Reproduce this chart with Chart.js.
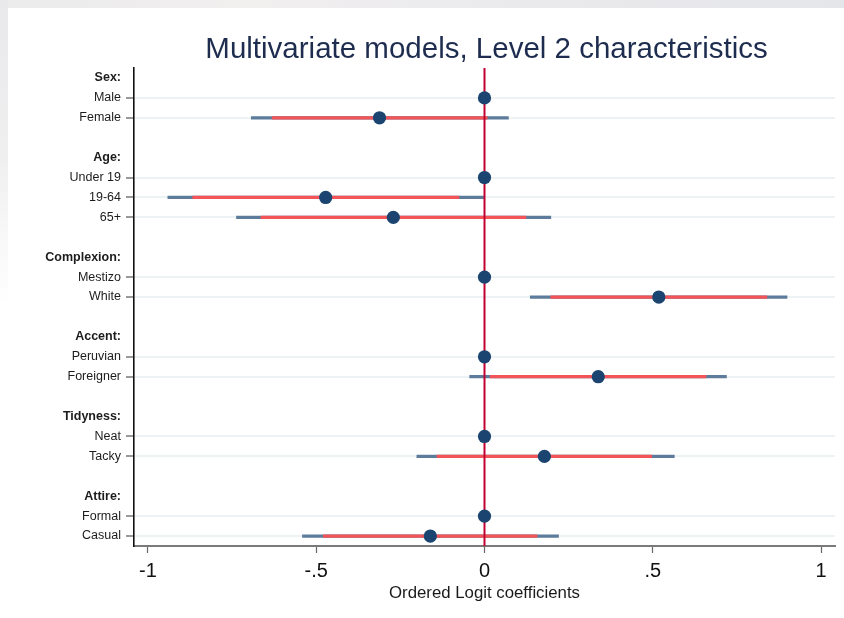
<!DOCTYPE html>
<html>
<head>
<meta charset="utf-8">
<title>Multivariate models, Level 2 characteristics</title>
<script src="https://cdn.jsdelivr.net/npm/chart.js@4/dist/chart.umd.min.js"></script>
<style>
  html, body { margin: 0; padding: 0; background: #ffffff; overflow: hidden; }
  #wrap { position: relative; width: 844px; height: 618px; overflow: hidden; }
  .strip-top { position: absolute; left: 0; top: 0; width: 844px; height: 8px;
    background: linear-gradient(90deg, #ebebec 0%, #f2efef 30%, #ecebee 50%, #e5e6e9 100%); }
  .strip-left { position: absolute; left: 0; top: 0; width: 8px; height: 618px;
    background: linear-gradient(180deg, #e9e9eb 0%, #efeff0 25%, #f9f9f9 40%, #ffffff 50%); }
  canvas { position: absolute; left: 0; top: 0; }
</style>
</head>
<body>
<div id="wrap">
  <div class="strip-top"></div>
  <div class="strip-left"></div>
  <canvas id="chart" width="844" height="618"></canvas>
</div>
<script>
// Row labels, top to bottom: group headers end with ':', '' marks a spacer row
const rowLabels = [
  'Sex:', 'Male', 'Female', '',
  'Age:', 'Under 19', '19-64', '65+', '',
  'Complexion:', 'Mestizo', 'White', '',
  'Accent:', 'Peruvian', 'Foreigner', '',
  'Tidyness:', 'Neat', 'Tacky', '',
  'Attire:', 'Formal', 'Casual'
];

// Point estimates (null for headers and spacers; 0 for reference categories)
const estimates = [
  null, 0, -0.312, null,
  null, 0, -0.472, -0.271, null,
  null, 0, 0.518, null,
  null, 0, 0.338, null,
  null, 0, 0.178, null,
  null, 0, -0.161
];

// Inner (90%) interval bounds
const lower90 = [
  null, null, -0.632, null,
  null, null, -0.868, -0.665, null,
  null, null, 0.196, null,
  null, null, 0.016, null,
  null, null, -0.142, null,
  null, null, -0.480
];
const upper90 = [
  null, null, 0.009, null,
  null, null, -0.075, 0.124, null,
  null, null, 0.840, null,
  null, null, 0.659, null,
  null, null, 0.498, null,
  null, null, 0.157
];

// Outer (95%) interval bounds
const lower95 = [
  null, null, -0.694, null,
  null, null, -0.942, -0.738, null,
  null, null, 0.135, null,
  null, null, -0.045, null,
  null, null, -0.202, null,
  null, null, -0.542
];
const upper95 = [
  null, null, 0.072, null,
  null, null, -0.001, 0.198, null,
  null, null, 0.900, null,
  null, null, 0.720, null,
  null, null, 0.565, null,
  null, null, 0.221
];

// x-axis tick values and their printed labels
const xTickValues = [-1, -0.5, 0, 0.5, 1];
const xTickLabels = ['-1', '-.5', '0', '.5', '1'];

const FONT = '"Liberation Sans", Arial, Helvetica, sans-serif';
const labelAt = i => (typeof rowLabels[i] === 'string' ? rowLabels[i] : '');
const isHeader = i => labelAt(i).endsWith(':');
const isItem = i => labelAt(i) !== '' && !isHeader(i);

// one line dataset per interval segment
function segmentSets(lo, hi, color, order) {
  const sets = [];
  rowLabels.forEach((_, i) => {
    if (lo[i] === null || hi[i] === null) return;
    sets.push({
      type: 'line',
      data: [{ x: lo[i], y: i }, { x: hi[i], y: i }],
      borderColor: color,
      borderWidth: 3.2,
      borderCapStyle: 'butt',
      pointRadius: 0,
      fill: false,
      order: order
    });
  });
  return sets;
}

const pointData = [];
estimates.forEach((v, i) => { if (v !== null) pointData.push({ x: v, y: i }); });

const datasets = [
  {
    type: 'scatter',
    data: pointData,
    pointRadius: 6.6,
    pointBackgroundColor: '#1b4570',
    pointBorderColor: '#1b4570',
    pointBorderWidth: 0,
    order: 0
  },
  {
    type: 'line',
    data: [{ x: 0, y: -0.5 }, { x: 0, y: rowLabels.length - 0.5 }],
    borderColor: '#c20030',
    borderWidth: 2,
    pointRadius: 0,
    fill: false,
    order: 1
  },
  ...segmentSets(lower90, upper90, '#f25457', 2),
  ...segmentSets(lower95, upper95, '#5d7c9b', 3)
];

// heading drawn centred over the plot area
const plotTitle = {
  id: 'plotTitle',
  afterDraw(chart) {
    const { ctx, chartArea } = chart;
    ctx.save();
    ctx.font = '29.5px ' + FONT;
    ctx.fillStyle = '#1e2d4f';
    ctx.textAlign = 'center';
    ctx.textBaseline = 'alphabetic';
    ctx.fillText('Multivariate models, Level 2 characteristics',
      (chartArea.left + chartArea.right) / 2 + 2, 58);
    ctx.restore();
  }
};

new Chart(document.getElementById('chart'), {
  data: { datasets },
  plugins: [plotTitle],
  options: {
    responsive: false,
    animation: false,
    devicePixelRatio: 1,
    layout: { padding: { top: 68, right: 9, left: 0, bottom: 0 } },
    plugins: {
      legend: { display: false },
      tooltip: { enabled: false },
      title: { display: false }
    },
    scales: {
      x: {
        type: 'linear',
        min: -1.0416,
        max: 1.0416,
        afterBuildTicks(scale) {
          scale.ticks = xTickValues.map(v => ({ value: v }));
        },
        afterFit(scale) { scale.height = 72; },
        ticks: {
          callback: (v) => xTickLabels[xTickValues.indexOf(v)],
          font: { family: FONT, size: 20 },
          color: '#111111',
          padding: 6,
          maxRotation: 0,
          autoSkip: false
        },
        grid: {
          drawOnChartArea: false,
          drawTicks: true,
          tickLength: 7,
          tickColor: '#666666',
          tickWidth: 1.2
        },
        border: { display: true, color: '#7a7a7a', width: 2 },
        title: {
          display: true,
          text: 'Ordered Logit coefficients',
          font: { family: FONT, size: 16.8 },
          color: '#1a1a1a',
          padding: { top: 0, bottom: 15 }
        }
      },
      y: {
        type: 'linear',
        reverse: true,
        min: -0.5,
        max: rowLabels.length - 0.5,
        afterBuildTicks(scale) {
          scale.ticks = rowLabels.map((_, i) => ({ value: i }));
        },
        afterFit(scale) { scale.width = 134; },
        ticks: {
          callback: (v) => labelAt(v),
          font: (ctx) => ({
            family: FONT,
            size: 12.5,
            weight: isHeader(ctx.index) ? 'bold' : 'normal'
          }),
          color: '#1c1c1c',
          padding: 5,
          autoSkip: false
        },
        grid: {
          drawOnChartArea: true,
          drawTicks: true,
          tickLength: 8,
          lineWidth: 2,
          color: (ctx) => isItem(ctx.index) ? '#edf2f4' : 'rgba(0,0,0,0)',
          tickColor: (ctx) => isItem(ctx.index) ? '#555555' : 'rgba(0,0,0,0)',
          tickWidth: 1.2
        },
        border: { display: true, color: '#111111', width: 1.6 }
      }
    }
  }
});
</script>
</body>
</html>
